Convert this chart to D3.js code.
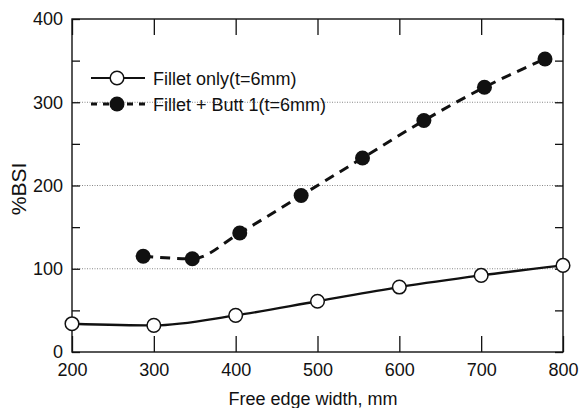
<!DOCTYPE html>
<html>
<head>
<meta charset="utf-8">
<script src="https://cdn.jsdelivr.net/npm/d3@7"></script>
<style>
  body { margin: 0; background: #fff; }
  text { font-family: Arial, "Liberation Sans", sans-serif; fill: #111; }
</style>
</head>
<body>
<div class="chart"></div>
<script>
// data
var filletX = [200, 300, 400, 500, 600, 700, 800];
var filletY = [34, 32, 44, 61, 78, 92, 104];
var buttX = [287, 347, 405, 480, 555, 630, 704, 778];
var buttY = [115, 112, 143, 188, 233, 278, 318, 352];
var xTicks = [200, 300, 400, 500, 600, 700, 800];
var yTicks = [0, 100, 200, 300, 400];
var yMinor = [50, 150, 250, 350];
var gridY = [100, 200, 300];
var seriesNames = ["Fillet only(t=6mm)", "Fillet + Butt 1(t=6mm)"];

var svgWidth = 579, svgHeight = 408;
var margin = { top: 19, right: 16, bottom: 56, left: 72 };
var width = svgWidth - margin.left - margin.right;
var height = svgHeight - margin.top - margin.bottom;

var svg = d3.select(".chart").append("svg")
  .attr("width", svgWidth)
  .attr("height", svgHeight);

var chart = svg.append("g")
  .attr("transform", "translate(" + margin.left + "," + margin.top + ")");

var x = d3.scaleLinear().domain([200, 800]).range([0, width]);
var y = d3.scaleLinear().domain([0, 400]).range([height, 0]);

// dotted gridlines
chart.selectAll(".grid")
  .data(gridY)
  .enter().append("line")
  .attr("x1", 0).attr("x2", width)
  .attr("y1", function (d) { return y(d); })
  .attr("y2", function (d) { return y(d); })
  .attr("stroke", "#888")
  .attr("stroke-width", 1)
  .attr("stroke-dasharray", "1,1.5");

// axes with inward ticks
var bottomAxis = d3.axisBottom(x).tickValues(xTicks).tickSize(-16).tickPadding(11).tickFormat(d3.format("d"));
var topAxis = d3.axisTop(x).tickValues(xTicks).tickSize(-16).tickFormat("");
var leftAxis = d3.axisLeft(y).tickValues(yTicks.concat(yMinor)).tickSize(-8).tickPadding(9)
  .tickFormat(function (d) { return yTicks.indexOf(d) >= 0 ? d : ""; });
var rightAxis = d3.axisRight(y).tickValues(yTicks.concat(yMinor)).tickSize(-8).tickFormat("");

function styleAxis(g) {
  g.select(".domain").remove();
  g.selectAll(".tick line").attr("stroke", "#111").attr("stroke-width", 1.3);
  g.selectAll(".tick text").style("font-size", "18px").attr("fill", "#111");
}

chart.append("g").attr("transform", "translate(0," + height + ")").call(bottomAxis).call(styleAxis);
chart.append("g").call(topAxis).call(styleAxis);
chart.append("g").call(leftAxis).call(styleAxis);
chart.append("g").attr("transform", "translate(" + width + ",0)").call(rightAxis).call(styleAxis);

// frame
chart.append("rect")
  .attr("width", width).attr("height", height)
  .attr("fill", "none").attr("stroke", "#111").attr("stroke-width", 1.4);

// series
var fillet = filletX.map(function (d, i) { return [d, filletY[i]]; });
var butt = buttX.map(function (d, i) { return [d, buttY[i]]; });

var line = d3.line()
  .x(function (d) { return x(d[0]); })
  .y(function (d) { return y(d[1]); })
  .curve(d3.curveMonotoneX);

chart.append("path").datum(fillet)
  .attr("d", line).attr("fill", "none")
  .attr("stroke", "#111").attr("stroke-width", 2.4);

chart.append("path").datum(butt)
  .attr("d", line).attr("fill", "none")
  .attr("stroke", "#111").attr("stroke-width", 3)
  .attr("stroke-dasharray", "10,7");

chart.selectAll(".open")
  .data(fillet)
  .enter().append("circle")
  .attr("cx", function (d) { return x(d[0]); })
  .attr("cy", function (d) { return y(d[1]); })
  .attr("r", 6.8)
  .attr("fill", "#fff").attr("stroke", "#111").attr("stroke-width", 1.5);

chart.selectAll(".filled")
  .data(butt)
  .enter().append("circle")
  .attr("cx", function (d) { return x(d[0]); })
  .attr("cy", function (d) { return y(d[1]); })
  .attr("r", 7.5)
  .attr("fill", "#111");

// legend
var legend = svg.append("g");
legend.append("line").attr("x1", 91).attr("x2", 145).attr("y1", 78).attr("y2", 78)
  .attr("stroke", "#111").attr("stroke-width", 2);
legend.append("circle").attr("cx", 117).attr("cy", 78).attr("r", 6.8)
  .attr("fill", "#fff").attr("stroke", "#111").attr("stroke-width", 1.5);
legend.append("line").attr("x1", 91).attr("x2", 145).attr("y1", 104).attr("y2", 104)
  .attr("stroke", "#111").attr("stroke-width", 2.8).attr("stroke-dasharray", "6,6");
legend.append("circle").attr("cx", 117).attr("cy", 104).attr("r", 7.5).attr("fill", "#111");

legend.selectAll(".ltext")
  .data(seriesNames)
  .enter().append("text")
  .attr("x", 153)
  .attr("y", function (d, i) { return 84.5 + i * 26; })
  .style("font-size", "18px")
  .text(function (d) { return d; });

// axis labels
svg.append("text")
  .attr("x", 313).attr("y", 405)
  .attr("text-anchor", "middle")
  .style("font-size", "18px")
  .text("Free edge width, mm");

svg.append("text")
  .attr("transform", "translate(26,189) rotate(-90)")
  .attr("text-anchor", "middle")
  .style("font-size", "21px")
  .text("%BSI");
</script>
</body>
</html>
